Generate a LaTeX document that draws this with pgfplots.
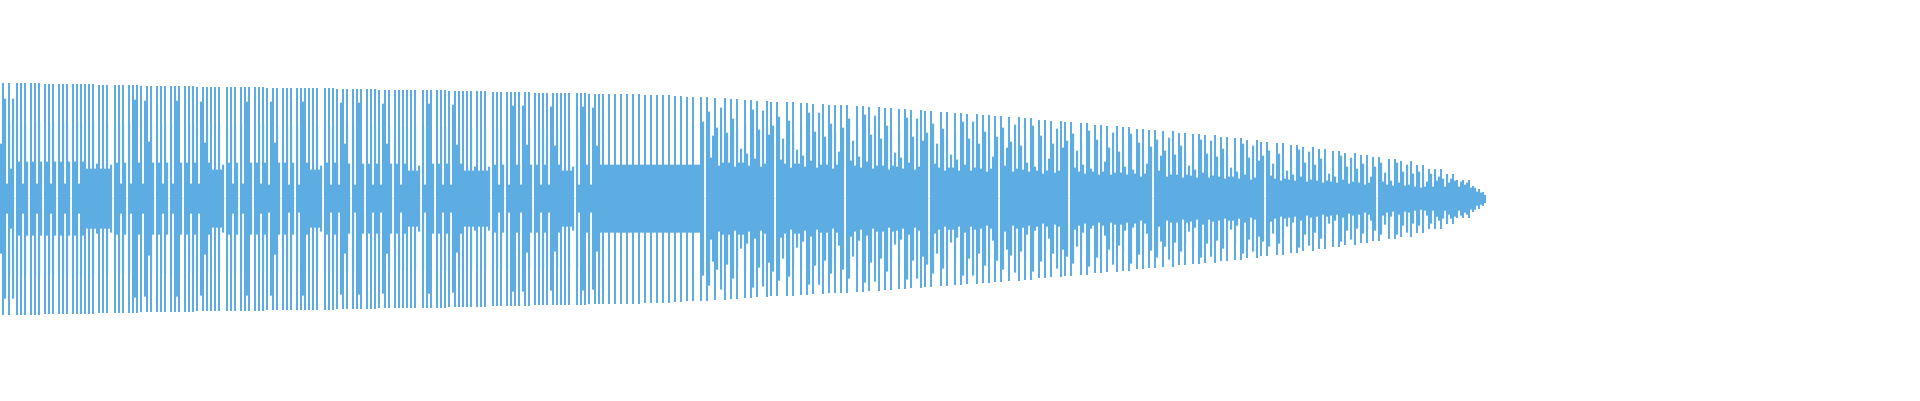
\documentclass[border=0pt]{standalone}
\usepackage{pgfplots}
\usepackage{pgfplotstable}
\pgfplotsset{compat=1.18}
\usepgfplotslibrary{fillbetween}
\definecolor{wave}{RGB}{93,173,226}
% b = half-height of the filled column (2 px wide), t = half-height of the thin peak bar in that column
\pgfplotstableread[row sep=\\]{
b t\\
55 0\\ 15 116\\ 100 0\\ 15 0\\ 77 116\\ 30 0\\ 100 0\\
0 0\\ 37 116\\ 37 0\\ 77 116\\ 15 0\\ 77 116\\ 37 0\\
0 0\\ 37 116\\ 37 0\\ 77 116\\ 15 0\\ 77 116\\ 37 0\\
0 0\\ 37 115\\ 37 0\\ 76 115\\ 15 0\\ 76 115\\ 37 0\\
0 0\\ 37 115\\ 37 0\\ 76 115\\ 15 0\\ 76 115\\ 37 0\\
0 0\\ 37 115\\ 37 0\\ 76 115\\ 15 0\\ 76 115\\ 37 0\\
30 115\\ 30 0\\ 35 115\\ 30 0\\ 76 115\\ 30 0\\ 35 0\\
30 114\\ 30 0\\ 34 114\\ 30 0\\ 75 114\\ 30 0\\ 34 0\\
0 0\\ 36 114\\ 36 0\\ 75 114\\ 15 0\\ 75 114\\ 36 0\\
0 0\\ 75 114\\ 15 0\\ 36 114\\ 99 0\\ 15 114\\ 36 0\\
36 113\\ 15 0\\ 98 0\\ 36 113\\ 57 0\\ 75 113\\ 36 0\\
0 0\\ 36 113\\ 36 0\\ 75 113\\ 15 0\\ 75 113\\ 36 0\\
0 0\\ 75 113\\ 15 0\\ 36 113\\ 98 0\\ 15 113\\ 36 0\\
0 0\\ 36 113\\ 36 0\\ 75 113\\ 15 0\\ 75 113\\ 36 0\\
36 112\\ 15 0\\ 97 0\\ 36 112\\ 56 0\\ 74 112\\ 36 0\\
29 112\\ 29 0\\ 34 112\\ 29 0\\ 74 112\\ 29 0\\ 34 0\\
0 0\\ 36 112\\ 36 0\\ 74 112\\ 15 0\\ 74 112\\ 36 0\\
0 0\\ 74 112\\ 15 0\\ 36 112\\ 97 0\\ 15 112\\ 36 0\\
0 0\\ 36 112\\ 36 0\\ 74 112\\ 15 0\\ 74 112\\ 36 0\\
36 111\\ 14 0\\ 97 0\\ 36 111\\ 56 0\\ 73 111\\ 36 0\\
0 0\\ 36 111\\ 36 0\\ 73 111\\ 14 0\\ 73 111\\ 36 0\\
0 0\\ 73 111\\ 14 0\\ 36 111\\ 97 0\\ 14 111\\ 36 0\\
29 111\\ 29 0\\ 33 111\\ 29 0\\ 73 111\\ 29 0\\ 33 0\\
0 0\\ 36 111\\ 36 0\\ 73 111\\ 14 0\\ 73 111\\ 36 0\\
35 110\\ 14 0\\ 96 0\\ 35 110\\ 55 0\\ 73 110\\ 35 0\\
0 0\\ 73 110\\ 14 0\\ 35 110\\ 96 0\\ 14 110\\ 35 0\\
0 0\\ 35 110\\ 35 0\\ 73 110\\ 14 0\\ 73 110\\ 35 0\\
35 109\\ 14 0\\ 95 0\\ 35 109\\ 55 0\\ 72 109\\ 35 0\\
0 0\\ 35 109\\ 35 0\\ 72 109\\ 14 0\\ 72 109\\ 35 0\\
28 109\\ 28 0\\ 33 109\\ 28 0\\ 72 109\\ 28 0\\ 33 0\\
0 0\\ 72 109\\ 14 0\\ 35 109\\ 95 0\\ 14 109\\ 35 0\\
0 0\\ 35 109\\ 35 0\\ 72 109\\ 14 0\\ 72 109\\ 35 0\\
35 108\\ 14 0\\ 94 0\\ 35 108\\ 54 0\\ 71 108\\ 35 0\\
28 108\\ 28 0\\ 32 108\\ 28 0\\ 71 108\\ 28 0\\ 32 0\\
28 108\\ 28 0\\ 32 108\\ 28 0\\ 71 108\\ 28 0\\ 32 0\\
0 0\\ 34 107\\ 34 0\\ 71 107\\ 14 0\\ 71 107\\ 34 0\\
0 0\\ 71 107\\ 14 0\\ 34 107\\ 93 0\\ 14 107\\ 34 0\\
34 107\\ 14 0\\ 93 0\\ 34 107\\ 54 0\\ 71 107\\ 34 0\\
0 0\\ 34 106\\ 34 0\\ 70 106\\ 14 0\\ 70 106\\ 34 0\\
34 106\\ 14 0\\ 92 0\\ 34 106\\ 53 0\\ 70 106\\ 34 0\\
28 106\\ 28 0\\ 32 106\\ 28 0\\ 70 106\\ 28 0\\ 32 0\\
0 0\\ 70 106\\ 14 0\\ 34 106\\ 92 0\\ 14 106\\ 34 0\\
34 105\\ 14 0\\ 91 0\\ 34 105\\ 53 0\\ 69 105\\ 34 0\\
34 105\\ 34 0\\ 34 0\\ 34 105\\ 34 0\\ 34 0\\ 34 105\\
34 0\\ 34 0\\ 34 105\\ 34 0\\ 34 0\\ 34 105\\ 34 0\\
34 0\\ 34 105\\ 34 0\\ 34 0\\ 34 105\\ 34 0\\ 34 0\\
34 104\\ 34 0\\ 34 0\\ 34 104\\ 34 0\\ 34 0\\ 34 104\\
34 0\\ 34 0\\ 34 104\\ 34 0\\ 34 0\\ 34 104\\ 34 0\\
34 0\\ 34 103\\ 34 0\\ 34 0\\ 34 103\\ 34 0\\ 34 0\\
34 102\\ 34 0\\ 34 0\\ 34 102\\ 34 0\\ 34 0\\ 34 0\\
41 102\\ 77 0\\ 0 0\\ 36 102\\ 87 0\\ 41 0\\ 63 0\\
40 101\\ 71 0\\ 33 0\\ 91 0\\ 36 0\\ 51 101\\ 66 0\\
36 0\\ 60 100\\ 80 0\\ 32 0\\ 70 100\\ 36 0\\ 50 0\\
36 0\\ 74 99\\ 45 0\\ 33 0\\ 54 99\\ 89 0\\ 40 0\\
39 98\\ 69 0\\ 32 0\\ 88 0\\ 35 0\\ 49 98\\ 64 0\\
39 97\\ 73 0\\ 0 0\\ 34 97\\ 82 0\\ 39 0\\ 60 0\\
35 0\\ 58 97\\ 78 0\\ 31 0\\ 68 97\\ 35 0\\ 49 0\\
35 0\\ 72 96\\ 43 0\\ 32 0\\ 53 96\\ 86 0\\ 38 0\\
38 95\\ 67 0\\ 31 0\\ 86 0\\ 34 0\\ 48 95\\ 62 0\\
34 0\\ 56 94\\ 75 0\\ 30 0\\ 66 94\\ 34 0\\ 47 0\\
38 94\\ 71 0\\ 0 0\\ 33 94\\ 80 0\\ 38 0\\ 58 0\\
33 0\\ 70 93\\ 42 0\\ 31 0\\ 51 93\\ 84 0\\ 37 0\\
37 92\\ 64 0\\ 30 0\\ 83 0\\ 33 0\\ 46 92\\ 60 0\\
33 0\\ 55 91\\ 73 0\\ 29 0\\ 64 91\\ 33 0\\ 46 0\\
32 0\\ 68 90\\ 41 0\\ 30 0\\ 50 90\\ 81 0\\ 36 0\\
36 89\\ 62 0\\ 29 0\\ 80 0\\ 32 0\\ 45 89\\ 58 0\\
35 88\\ 66 0\\ 0 0\\ 31 88\\ 75 0\\ 35 0\\ 55 0\\
31 0\\ 52 87\\ 70 0\\ 28 0\\ 61 87\\ 31 0\\ 44 0\\
31 0\\ 65 86\\ 39 0\\ 28 0\\ 47 86\\ 77 0\\ 34 0\\
34 85\\ 60 0\\ 28 0\\ 77 0\\ 31 0\\ 43 85\\ 55 0\\
30 0\\ 50 84\\ 67 0\\ 27 0\\ 59 84\\ 30 0\\ 42 0\\
33 83\\ 62 0\\ 0 0\\ 29 83\\ 71 0\\ 33 0\\ 51 0\\
33 82\\ 57 0\\ 27 0\\ 74 0\\ 30 0\\ 41 82\\ 53 0\\
29 0\\ 61 81\\ 36 0\\ 27 0\\ 45 81\\ 73 0\\ 32 0\\
28 0\\ 47 79\\ 63 0\\ 25 0\\ 55 79\\ 28 0\\ 40 0\\
31 78\\ 55 0\\ 26 0\\ 70 0\\ 28 0\\ 39 78\\ 51 0\\
31 77\\ 58 0\\ 0 0\\ 27 77\\ 65 0\\ 31 0\\ 48 0\\
27 0\\ 57 76\\ 34 0\\ 25 0\\ 42 76\\ 68 0\\ 30 0\\
27 0\\ 44 74\\ 59 0\\ 24 0\\ 52 74\\ 27 0\\ 37 0\\
29 73\\ 51 0\\ 24 0\\ 66 0\\ 26 0\\ 37 73\\ 47 0\\
26 0\\ 54 72\\ 32 0\\ 24 0\\ 40 72\\ 65 0\\ 29 0\\
25 0\\ 42 70\\ 56 0\\ 22 0\\ 49 70\\ 25 0\\ 35 0\\
28 69\\ 52 0\\ 0 0\\ 24 69\\ 59 0\\ 28 0\\ 43 0\\
27 68\\ 48 0\\ 22 0\\ 61 0\\ 24 0\\ 34 68\\ 44 0\\
24 0\\ 40 66\\ 53 0\\ 21 0\\ 46 66\\ 24 0\\ 33 0\\
23 0\\ 49 65\\ 29 0\\ 21 0\\ 36 65\\ 59 0\\ 26 0\\
26 64\\ 45 0\\ 21 0\\ 58 0\\ 23 0\\ 32 64\\ 42 0\\
22 0\\ 37 62\\ 50 0\\ 20 0\\ 43 62\\ 22 0\\ 31 0\\
22 0\\ 46 61\\ 27 0\\ 20 0\\ 34 61\\ 55 0\\ 24 0\\
24 59\\ 41 0\\ 19 0\\ 53 0\\ 21 0\\ 30 59\\ 38 0\\
23 57\\ 43 0\\ 0 0\\ 20 57\\ 48 0\\ 23 0\\ 35 0\\
20 0\\ 34 56\\ 45 0\\ 18 0\\ 39 56\\ 20 0\\ 28 0\\
19 0\\ 41 54\\ 24 0\\ 18 0\\ 30 54\\ 49 0\\ 22 0\\
21 52\\ 36 0\\ 17 0\\ 47 0\\ 19 0\\ 26 52\\ 34 0\\
18 0\\ 30 50\\ 40 0\\ 16 0\\ 35 50\\ 18 0\\ 25 0\\
17 0\\ 36 48\\ 22 0\\ 16 0\\ 26 48\\ 43 0\\ 19 0\\
18 46\\ 32 0\\ 15 0\\ 41 0\\ 17 0\\ 23 46\\ 30 0\\
16 0\\ 26 44\\ 35 0\\ 14 0\\ 31 44\\ 16 0\\ 22 0\\
17 42\\ 32 0\\ 0 0\\ 15 42\\ 36 0\\ 17 0\\ 26 0\\
14 0\\ 30 40\\ 18 0\\ 13 0\\ 22 40\\ 36 0\\ 16 0\\
15 38\\ 27 0\\ 13 0\\ 34 0\\ 14 0\\ 19 38\\ 25 0\\
12 0\\ 20 34\\ 27 0\\ 11 0\\ 24 34\\ 12 0\\ 17 0\\
20 30\\ 25 0\\ 12 0\\ 27 30\\ 18 0\\ 22 0\\ 15 30\\
20 0\\ 12 0\\ 22 25\\ 16 0\\ 20 0\\ 10 25\\ 18 0\\
15 19\\ 12 0\\ 17 0\\ 8 19\\ 14 0\\ 16 0\\ 10 19\\
11 0\\ 9 13\\ 11 0\\ 7 0\\ 8 10\\ 6 0\\ 5 7\\
3 4\\
0 0\\
}\wavedata
\begin{document}
\begin{tikzpicture}
\begin{axis}[
  scale only axis, width=1920bp, height=400bp, hide axis,
  xmin=0, xmax=960, ymin=-201.5, ymax=198.5,
]
\addplot[name path=up, draw=none, const plot mark left] table[x expr=\coordindex, y=b]{\wavedata};
\addplot[name path=lo, draw=none, const plot mark left] table[x expr=\coordindex, y expr=-\thisrow{b}]{\wavedata};
\addplot[fill=wave, draw=none] fill between[of=up and lo];
\addplot[ycomb, draw=wave, line width=1.5bp, mark=none] table[x expr=\coordindex+0.5, y=t]{\wavedata};
\addplot[ycomb, draw=wave, line width=1.5bp, mark=none] table[x expr=\coordindex+0.5, y expr=-\thisrow{t}]{\wavedata};
\end{axis}
\path (current axis.south west) rectangle (current axis.north east);
\end{tikzpicture}
\end{document}
